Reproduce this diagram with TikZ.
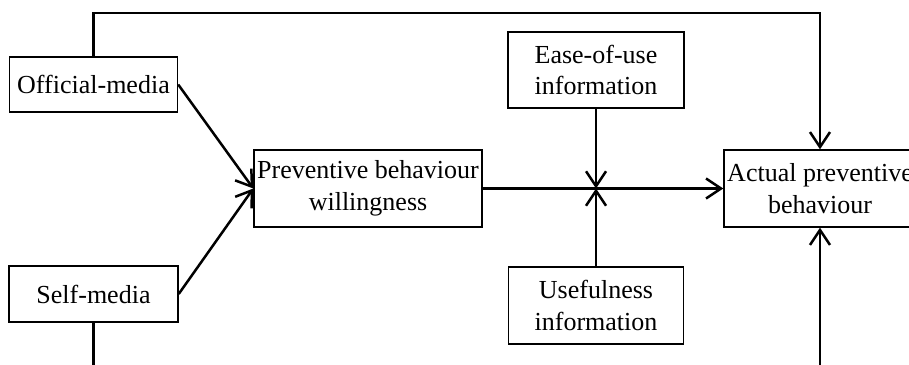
\documentclass[tikz,border=0pt]{standalone}
\usepackage{fontspec}
\setmainfont{Liberation Serif}
\usetikzlibrary{arrows.meta}
\begin{document}
\begin{tikzpicture}[x=1pt,y=-1pt,
  box/.style={draw,line width=1.4pt,inner sep=0pt,align=center,
    font=\fontsize{26}{31.5}\selectfont},
  arr/.style={line width=2.5pt,-{Straight Barb[length=15pt,width=20pt]}}]
\clip (0,0) rectangle (909,364);
\node[box,minimum width=168pt,minimum height=55pt] (off) at (93.5,84.5) {Official-media};
\node[box,minimum width=169pt,minimum height=56pt] (self) at (93.5,294) {Self-media};
\node[box,minimum width=228pt,minimum height=77pt] (prev) at (368,188.5) {Preventive behaviour\\willingness};
\node[box,minimum width=176pt,minimum height=76pt] (ease) at (596,70) {Ease-of-use\\information};
\node[box,minimum width=175pt,minimum height=77pt] (use) at (596,305.5) {Usefulness\\information};
\node[box,minimum width=192pt,minimum height=77pt] (act) at (820,188.5) {Actual preventive\\behaviour};
\coordinate (tl) at (93.5,13);
\coordinate (bl) at (93.5,420);
\coordinate (j) at (596,188.5);
\draw[arr] (off.north) -- (tl) -| (act.north);
\draw[arr] (self.south) -- (bl) -| (act.south);
\draw[arr] (off.east) -- (prev.west);
\draw[arr] (self.east) -- (prev.west);
\draw[arr] (prev.east) -- (act.west);
\draw[arr] (ease.south) -- (j);
\draw[arr] (use.north) -- (j);
\end{tikzpicture}
\end{document}
